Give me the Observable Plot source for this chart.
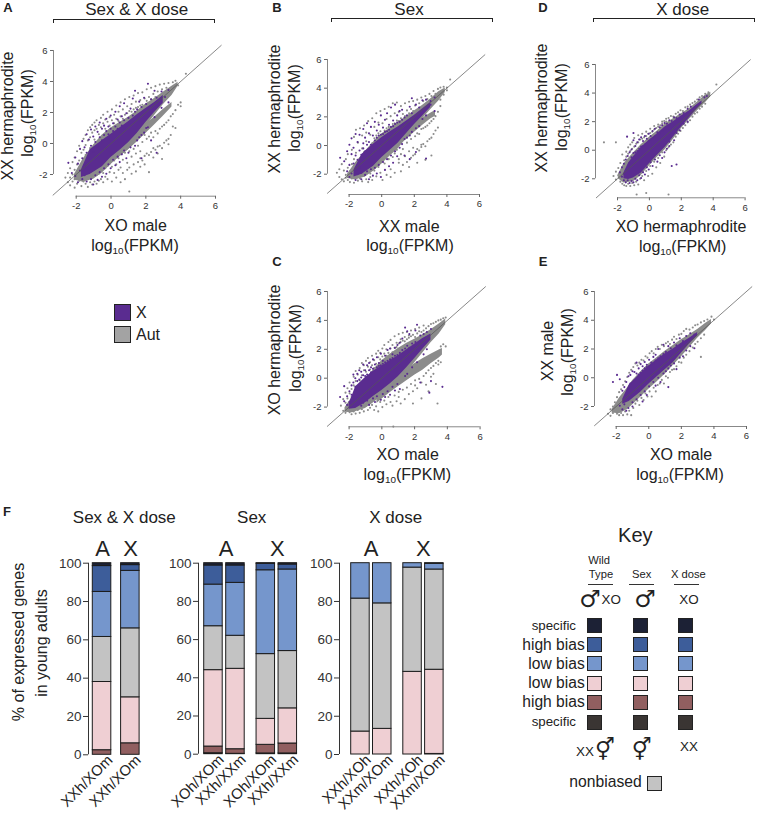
<!DOCTYPE html>
<html><head><meta charset="utf-8">
<script src="https://cdn.jsdelivr.net/npm/d3@7"></script>
<script src="https://cdn.jsdelivr.net/npm/@observablehq/plot@0.6"></script>
<style>
html,body{margin:0;padding:0;background:#fff}
#page{position:relative;width:757px;height:815px;overflow:hidden;font-family:"Liberation Sans",Arial,sans-serif;color:#222}
#page svg{position:absolute;overflow:visible;background:transparent}
.t{position:absolute;white-space:nowrap;line-height:1.1}
.t sub{font-size:.62em;line-height:0;vertical-align:-0.28em}
.sw{position:absolute;box-sizing:border-box;border:1.4px solid #222}
.br{position:absolute;box-sizing:border-box;border:1.3px solid #222;border-bottom:none;height:4px}
.hr{position:absolute;height:1px;background:#333}
</style></head><body><div id="page"></div>
<script>
// ---------- scatter data: log10(FPKM) ----------
const diagonal=[-3.33,6.33];
const tickVals=[-2,0,2,4,6];
// dense cores: envelope of the packed part of each cloud at each x
const aGrayX=[-2.1,-1.6,-1,-.5,0,.5,1,1.5,2,2.5,3,3.5,3.85];
const aGrayLo=[-2.35,-2.5,-2.3,-1.9,-1.35,-.85,-.4,.35,1.1,1.8,2.5,3.1,3.7];
const aGrayHi=[-2,-1,-.1,.55,1,1.35,1.7,2.1,2.55,2.9,3.3,3.7,3.95];
const aLobeX=[0,.5,1,1.5,2,2.5,3,3.5];
const aLobeLo=[-1.3,-.85,-.4,.1,.65,1.2,1.75,2.35];
const aLobeHi=[-.6,-.1,.3,.75,1.25,1.7,2.2,2.65];
const aPurpleX=[-1.7,-1.2,-.5,0,.5,1,1.5,2,2.5,3];
const aPurpleLo=[-2.2,-2,-1.5,-.9,-.45,.05,.65,1.35,2,2.6];
const aPurpleHi=[-1.7,-.4,.2,.6,1,1.4,1.85,2.25,2.65,3.1];
// scattered genes: [x, y, y, ...]
const aGrayCols=[[-2.62,-2.2],[-2.48,-1.9,-2.5],[-2.35,-1.6,-2.2,-2.7],[-2.21,-1.2,-2,-2.45],[-2.09,-.9,-1.7,-2.3,-2.85],[-1.95,-.5,-1.35,-2,-2.6],[-1.83,-.15,-1.1,-1.7,-2.4],[-1.7,-.6,-1.4,-2.15,-2.75],[-1.58,.3,-.4,-1,-2.45],[-1.46,.55,-.1,-.75,-2.6],[-1.33,.85,.2,-2.3,-2.8],[-1.2,1.05,.4,-.3,-2.5],[-1.08,.7,1.2,-2.2,-2.65],[-.95,1.35,.85,.25,-2.45],[-.83,.95,1.5,-2.05,-2.6],[-.7,1.2,.6,-1.95,-2.4],[-.58,1.65,1.05,-2.3,-1.7],[-.45,1.3,1.85,-1.9,-2.5],[-.33,1.55,.95,-1.6,-2.15],[-.2,2.05,1.4,-1.45,-2.3],[-.08,1.7,1.15,-1.85,-1.3],[.05,2.2,1.5,-1.5,-2.45],[.18,1.85,1.3,-1.1,-1.9],[.3,2.45,1.6,-1.35,-2.2],[.43,2.05,1.45,-.95,-1.7],[.55,2.65,1.75,-1.55,-2.5],[.68,2.2,1.6,-1.05,-1.9],[.8,2.85,1.85,-.6,-2.3],[.93,2.4,1.95,-1.25,-1.7],[1.05,3,2.1,-.5,-1.55,-3.1],[1.18,2.55,2.05,-.85,-1.95],[1.3,3.1,2.2,-.35,-1.35],[1.43,2.7,2.3,-.65,-1.8],[1.55,3.25,2.35,-.15,-1.2],[1.68,2.8,2.45,-.5,-1.5,-.95],[1.8,3.3,2.5,.1,-1.1],[1.93,2.9,.55,-.8,-1.35],[2.05,3.5,2.75,.3,-.65],[2.18,3,.45,-.75,-1.85],[2.3,3.6,2.85,.7,-.55],[2.43,3.2,.4,-.3,-.9],[2.55,3.7,3,.8,-.4],[2.68,3.35,.65,-.2,-.65],[2.8,3.8,.95,-.15],[2.93,3.5,1.1,-.3,-1],[3.05,3.85,1.2,.05],[3.18,3.6,1.35,.2],[3.3,3.9,1.5,.3,-.05],[3.43,1.75,.55],[3.55,3.95,1.9,1.1],[3.7,4.05,2.15,1],[3.85,3.75,2.5],[4,2.4,2.65],[4.3,4.5]];
const aPurpleCols=[[-2.45,-1.25],[-2.25,-1.9],[-2.05,-.9,-2.1],[-1.9,-1.3,-2.5],[-1.78,-.35,-1.75],[-1.65,.15,-.95,-2.3],[-1.52,-.25,-1.5,-2.05],[-1.4,.6,-.6,-2.45],[-1.27,.25,-.95,-1.9],[-1.15,.9,-.15,-2.3],[-1.02,.45,-.55,-2.65],[-.9,1.1,.1,-2.05],[-.77,.75,-.2,-2.35],[-.65,1.35,.4,-1.85],[-.52,.95,.2,-2.15],[-.4,1.15,.55,-1.6],[-.27,1.6,.8,-1.95],[-.15,1.1,.6,-1.35],[-.02,1.8,.95,-1.6],[.12,1.3,.8,-1.05],[.25,2.05,1.1,-1.4],[.38,1.55,.95,-.85],[.5,2.4,1.35,-1.2],[.62,1.75,1.15,-.7],[.75,2.6,1.5,-.45],[.88,1.95,-.95],[1,1.65,-.6],[1.12,2.25,-.25],[1.25,2.9,1.8],[1.38,3.4,2.05,-.15],[1.5,2.2,.2],[1.62,2.7,.4],[1.75,2.35,.55,-.95],[1.9,2.95,.7],[2.02,2.55,1],[2.12,3.85,1.05],[2.3,2.85,.2],[2.5,3.4,1.7],[2.62,-.6,2.95],[2.9,3.35,2.3],[3.1,3],[3.3,2.65,3.45]];

const bGrayX=[-2.1,-1.6,-1,-.5,0,.5,1,1.5,2,2.5,3,3.5,3.9];
const bGrayLo=[-2.3,-2.4,-2.2,-1.8,-1.3,-.75,-.25,.45,1.15,1.85,2.5,3.1,3.7];
const bGrayHi=[-2,-1.2,-.4,.25,.8,1.2,1.6,2,2.4,2.8,3.25,3.75,4.02];
const bLobeX=[.5,1,1.5,2,2.5,3,3.3];
const bLobeLo=[-.5,-.05,.4,.9,1.4,1.85,2.05];
const bLobeHi=[.05,.5,1,1.5,1.9,2.25,2.45];
const bPurpleX=[-1.7,-1.2,-.5,0,.5,1,1.5,2,2.5,3];
const bPurpleLo=[-2.2,-2,-1.45,-.85,-.35,.15,.8,1.45,2.05,2.65];
const bPurpleHi=[-1.7,-.6,.1,.55,.95,1.3,1.7,2.1,2.55,3];
const bGrayCols=[[-2.75,-1.9],[-2.6,-1.65,-2.2],[-2.45,-1.3,-2.35],[-2.32,-1.75,-2.5],[-2.2,-.95,-2.05,-2.25],[-2.08,-.6,-1.55,-2.4],[-1.95,-1.8,-2.15,-2.55],[-1.83,-.3,-1.3,-2.3],[-1.7,.6,-.95,-1.9,-2.6],[-1.58,1.1,-.5,-2.15],[-1.46,.2,-1.5,-2.45],[-1.33,1.2,-.9,-2.3],[-1.2,.7,-.2,-2.5],[-1.08,1.4,-.45,-2.1],[-.95,.9,.3,-2.35],[-.83,1.7,-.25,-2.55],[-.7,.75,-1.95,-2.2],[-.58,1.9,.15,-2.4],[-.45,1.3,.5,-1.75],[-.33,2.25,.7,-2.15],[-.2,1.6,.85,-1.5],[-.08,2.4,1,-1.9],[.05,1.55,.8,-2.4],[.18,2.55,1.05,-1.25],[.3,1.85,1.2,-2.05],[.43,2.7,1.3,-.95],[.55,2.05,1.25,-1.65,-2.2],[.68,2.95,1.5,-.8],[.8,2.25,1.55,-.55,-1.9],[.93,3,1.75,-.3],[1.05,2.35,1.7,-1.2,-.95],[1.18,2.75,1.9,-.6,-1.8],[1.3,2.2,-.25,-1.35],[1.43,2.95,2.05,-.75],[1.55,2.45,.2,-1.15],[1.68,3.05,2.25,-.4,-1.5],[1.8,2.55,.45,-.85],[1.93,3.1,2.4,-.15,-.7],[2.05,2.8,.65,-.6],[2.18,3.2,.85,-.25,-1.2],[2.3,2.95,.8,-.35],[2.43,3.35,1.15,.05,-.1],[2.55,3.1,1.2,.1],[2.68,3.45,1.3,-.05,-1],[2.8,3.25,1.4,.3],[2.93,3.6,1.55,.45],[3.05,3.45,1.7,.55,-.7],[3.18,3.8,1.85,.8],[3.3,3.6,2.05,1.05],[3.45,3.95,2.35,1.25],[3.6,4.05,3.2,2.75],[3.8,4.1,3.55],[4,3.85,4.05],[4.2,4.6]];
const bPurpleCols=[[-2.55,-.85],[-2.3,-1.1],[-2.12,-.4,-1.8],[-1.98,.05,-1.35,-2.2],[-1.85,.5,-.6,-1.95],[-1.73,-.15,-1.25],[-1.6,.8,-.7,-1.6,-2.4],[-1.48,.25,-1,-2],[-1.36,.75,-.35,-1.55],[-1.25,-.65,-1.9,-2.35],[-1.13,1.15,.15,-.2],[-1.02,.55,-.4,-2.05],[-.9,1.55,.05,-1.8],[-.78,.85,.25,-2.35],[-.66,1.3,.05,-1.65],[-.54,.7,-2.1],[-.42,1.65,.35,-1.55],[-.3,1.05,.55,-1.95],[-.18,1.45,.7,-1.35],[-.05,2.1,.75,-2.2],[.08,1.25,.8,-1.15],[.2,1.8,.95,-1.7],[.33,2.25,1,-.95],[.45,1.45,1.1,-1.45],[.57,2.65,1.3,-.7],[.7,1.75,1.35,-1.2],[.82,2.85,1.5,-.4],[.95,2.1,1.6,-.75],[1.1,2.4,1.65,-.15],[1.25,2.5,1.8,.1],[1.4,1.95,.45,-.7],[1.55,2.1,.55],[1.72,2.7,.7,-.95],[1.85,3.3,2.25,.95],[2.1,2.85,1.2,-.45],[2.3,2.65,1.35],[2.5,3.15,1.85],[2.72,3.2,2.1,-.9],[3,2.85,3.1],[3.25,2.4,3.35]];

const cGrayX=[-2.25,-1.8,-1,-.5,0,.5,1,1.5,2,2.5,3,3.5,3.9];
const cGrayLo=[-2.35,-2.4,-2.1,-1.7,-1.25,-.75,-.25,.35,1.05,1.75,2.45,3.05,3.7];
const cGrayHi=[-2.05,-1.3,-.1,.6,1.2,1.65,2.05,2.4,2.7,3,3.35,3.75,4.1];
const cLobeX=[-.3,0,.5,1,1.5,2,2.5,3,3.5,3.7];
const cLobeLo=[-1.75,-1.45,-1,-.6,-.2,.2,.55,1,1.4,1.6];
const cLobeHi=[-1.1,-.8,-.3,.2,.6,1,1.35,1.65,1.95,2.05];
const cPurpleX=[-2,-1.6,-1,-.5,0,.5,1,1.5,2,2.5,3];
const cPurpleLo=[-2.15,-2.1,-1.7,-1.25,-.85,-.4,.1,.7,1.35,2,2.65];
const cPurpleHi=[-1.8,-.6,.05,.5,.85,1.2,1.55,1.95,2.35,2.75,3.05];
const cGrayCols=[[-2.5,-1.9],[-2.36,-1.45,-2.25],[-2.22,-1,-1.7,-2.4],[-2.1,-.7,-1.4,-2.2],[-1.97,-.3,-1.05,-2.35],[-1.85,-.75,-1.3,-2.5],[-1.72,.1,-.5,-2.3],[-1.6,.5,-.2,-2.45],[-1.47,.25,-.6,-2.2],[-1.35,.7,-.15,-2.4],[-1.22,1.05,.2,-2.15],[-1.1,.55,.9,-2.3],[-.97,1.2,.45,-1.9],[-.85,.8,1.4,-2.2],[-.72,1.1,.6,-2.05],[-.6,1.55,.9,-1.85],[-.47,1.25,.7,-2.2],[-.35,1.7,1,-1.95],[-.22,1.45,1.9,-2.3],[-.1,1.3,1.75,-1.65],[.03,2.05,1.5,-2],[.15,1.7,2.3,-1.55],[.28,2,1.55,-1.8],[.4,2.5,1.75,-1.3],[.53,2.05,2.65,-1.65],[.65,2.3,1.8,-1.9],[.78,2.9,2.1,-1.2],[.9,2.45,2.15,-1.6],[1.03,3.05,2.4,-1.3,-.95],[1.15,2.7,2.5,-1.75],[1.28,3.15,2.6,-.8],[1.4,2.85,2.55,-1.45],[1.53,3.2,2.7,-.65],[1.65,2.95,2.8,-1.1],[1.78,3.3,2.9,-.4],[1.9,3,-.9,-1.75],[2.03,3.4,2.85,-.15,-.5],[2.16,3.1,-.7],[2.28,3.5,3.25,-.05],[2.42,3.2,-1.4,-.3],[2.55,3.65,3.3,.15],[2.7,3.45,.35,-.45],[2.85,3.6,-.9,.55],[3,3.75,.1,.7],[3.15,3.8,.85,.3],[3.3,3.9,1.05,-.4],[3.45,4,1.2,.95],[3.6,4.05,2.2,1.1],[3.75,4.15,2.35],[3.9,2.2,4.2],[3.4,-1.75],[.7,-3.35]];
const cPurpleCols=[[-2.55,-1.3],[-2.3,-.55,-1.6],[-2.12,-1.25,-1.85],[-1.98,-.9,-1.65],[-1.85,-.5,-1.15],[-1.74,.25,-.3],[-1.62,-.6,0],[-1.5,-.2,.3,-1.4],[-1.38,.55,-.1],[-1.26,.05,.45,-1.9],[-1.14,.95,.2,-1.7],[-1.02,.55,.15],[-.9,.9,.25,-1.55],[-.78,1.05,.55,-1.85],[-.66,.75,.4],[-.54,1.3,.65,-1.4],[-.42,.95,.5,-1.65],[-.3,1.45,.75,-1.25],[-.18,1.05,.85],[-.06,1.7,.9,-1.5],[.06,1.2,1,-1.1],[.2,1.55,1.1,-1.3],[.35,1.95,1.2,-.9],[.5,2.05,1.3,-1.15],[.65,1.65,1.4,-.6],[.8,2.1,1.55,-.85],[.95,2.3,1.6,-.4],[1.1,2.45,1.75,-.75],[1.25,1.95,2.75],[1.42,3.5,2.05,.15],[1.55,3.25,2.25,.3],[1.68,3.05,2.1],[1.85,2.4,.75],[2.05,3.3,2.5],[2.15,3.7,1.1],[2.35,2.95,-.3],[2.55,3.05,1.65],[2.75,3.2,2],[2.9,-1],[3,3.4,-.2],[3.7,-.6]];

const dGrayX=[-1.95,-1.6,-1,-.5,0,.5,1,1.5,2,2.5,3,3.5,3.85];
const dGrayLo=[-2,-2.3,-2.2,-1.75,-1.1,-.5,.05,.75,1.5,2.15,2.75,3.3,3.75];
const dGrayHi=[-1.7,-.95,-.2,.4,.9,1.35,1.85,2.2,2.55,2.9,3.35,3.85,4.05];
const dPurpleX=[-1.6,-1.3,-1,-.5,0,.5,1,1.5,2,2.5,3,3.3];
const dPurpleLo=[-2,-2.05,-1.95,-1.6,-.95,-.35,.2,.9,1.6,2.25,2.9,3.25];
const dPurpleHi=[-1.6,-.9,-.45,.2,.7,1.15,1.65,2,2.4,2.75,3.2,3.45];
const dGrayCols=[[-2.25,-1.8],[-2.1,.55,-1.5,-2.05],[-1.95,-1.25,-1.75],[-1.82,-.9,-2.2],[-1.7,-.3,-1.35,-2.35],[-1.58,-.7,-2.45],[-1.45,-.1,-.45,-2.5],[-1.33,.2,-.25,-2.35],[-1.2,.4,-.05,-2.5],[-1.08,.55,.1,-2.3],[-.95,.85,.25,-2.45],[-.83,.45,-2.2],[-.7,1.05,.55,-2.4],[-.58,.75,-2],[-.45,1.15,.8,-1.8],[-.33,.9,-2.1],[-.2,1.3,1,-1.45],[-.08,1.15,-1.8],[.05,1.5,1.2,-1.1],[.18,1.3,-1.65],[.3,1.7,1.45,-.8],[.43,1.55,-1.2],[.55,1.8,1.65,-.55],[.68,1.75,-.9],[.8,2,1.85,-.15],[.93,2.05,-.45],[1.05,2.2,2,0],[1.2,2.25,.2,-3.1],[1.35,2.4,.4],[1.5,2.35,.55],[1.65,2.55,.95],[1.8,2.65,1.15],[1.95,2.8,1.35],[2.1,2.75,1.55],[2.25,3,1.75],[2.4,3.05,1.95],[2.55,3.2,2.1],[2.7,3.3,2.35],[2.85,3.4,2.55],[3,3.55,2.65],[3.15,3.7,2.9],[3.3,3.8,3.05],[3.5,3.95,3.25],[3.7,4.05],[4.2,4.6],[-.8,-3.1],[-.2,-3],[-2.85,.55]];
const dPurpleCols=[[-1.85,-1.55],[-1.72,-1.2,-1.85],[-1.6,-.95,-1.65,-2.1],[-1.48,-.65,-1.4,-2.25],[-1.36,-.4,-2.1],[-1.24,-.15,-.9,-2.3],[-1.12,.05,-.5,-2.15],[-1,.7,-.2,-2.25],[-.88,.3,-.15,-2],[-.76,.55,-.05,-2.1],[-.64,.75,.1,-1.75],[-.52,.9,.25,-1.95],[-.4,.65,.3,-1.55],[-.28,1,.4,-1.7],[-.16,.8,.5,-1.2],[-.04,1.15,.65,-1.35],[.08,1,.75,-.85],[.2,1.35,.85,-1.1],[.35,1.5,.95,-.65],[.5,1.25,-.8],[.65,1.6,1.15,-.35],[.8,1.75,1.35,-.55],[.95,1.9,-.15],[1.1,1.85,.1],[1.25,2.1,.3,.6],[1.4,2.05,-1.1],[1.55,2.3,.7],[1.7,-1,2.25,1.2],[1.9,2.5,1.4],[2.15,2.6,1.85],[2.4,2.9,2],[2.6,3.05],[3.1,3.55],[3.45,3.7],[3.6,3.8],[-1,1.2],[-1.4,.95]];

const eGrayX=[-2.25,-1.8,-1.3,-1,-.5,0,.5,1,1.5,2,2.5,3,3.5,3.85];
const eGrayLo=[-2.45,-2.5,-2.2,-1.9,-1.35,-.8,-.3,.25,.85,1.45,2.1,2.75,3.3,3.75];
const eGrayHi=[-2.2,-1.4,-.7,-.2,.4,.95,1.4,1.85,2.25,2.65,3,3.35,3.8,4.05];
const ePurpleX=[-1.6,-1.2,-.5,0,.5,1,1.5,2,2.5,3];
const ePurpleLo=[-1.85,-1.65,-1,-.45,.05,.55,1.05,1.7,2.35,2.9];
const ePurpleHi=[-1.5,-.5,.3,.8,1.25,1.65,2,2.4,2.75,3.15];
const eGrayCols=[[-2.5,-2.5],[-2.35,-2.2,-2.65],[-2.2,-2,-2.45],[-2.08,-1.7,-2.3],[-1.95,-1.35,-2.5],[-1.82,-1,-2.6],[-1.7,-.8,-2.45],[-1.58,-.5,-2.6],[-1.45,-.25,-2.35],[-1.32,.05,-2.55],[-1.2,.35,-2.3],[-1.08,.55,-2.6],[-.95,.75,-2.1],[-.82,1,-1.8],[-.7,.85,-1.6],[-.58,1.05,-1.9],[-.45,1.25,-1.4],[-.32,1.2,-1.55],[-.2,1.5,-1.1],[-.08,1.4,-1.3],[.05,1.7,-.95],[.18,1.85,-1.3],[.3,1.7,-.7],[.43,2,-.95],[.55,2.15,-.5],[.68,2,-.4],[.8,2.3,-.15],[.93,2.2,-.4],[1.05,2.4,.1],[1.18,2.5,0],[1.3,2.35,.4],[1.43,2.65,.55],[1.55,2.85,.6],[1.7,2.7,.8],[1.85,3,1.1],[2,3.05,1.05],[2.15,3.25,1.4],[2.3,3.4,1.6],[2.5,3.35,1.85],[2.7,3.5,2.1],[2.85,3.65,2.35],[3,3.7,2.5],[3.2,3.85,1.45,2.75],[3.4,3.95,3],[3.6,4.05],[3.85,4.25],[4,4.05]];
const ePurpleCols=[[-2.2,-.3],[-1.95,.2],[-1.78,-.1,-1.95],[-1.62,-.9,-2.2],[-1.5,-.65,-1.85],[-1.38,-.3,-2.3],[-1.25,.1,-1.4,-2.1],[-1.13,.2,-.4],[-1,.45,-1.7,-2],[-.88,.4,-.2],[-.75,1.05,.3,-1.5],[-.62,.65,.2],[-.5,.95,.35,-1.2],[-.38,.8,.5,-1.65],[-.25,1.1,.65,-.95],[-.12,.9,.75,-1.2],[.02,1.25,.8,-.6],[.15,1.05,.9],[.28,1.45,1,-.3],[.42,1.6,1.2,-.55],[.58,2,1.35,0],[.72,1.5,-.3],[.9,2.3,1.65,.3],[1.05,1.8,.45],[1.2,2.2,.65,-.65],[1.35,2.05,.85],[1.55,2.45,1],[1.7,2.25,.6],[1.9,2.75,1.4],[2.1,2.55,1.5],[2.3,2.9,1.9],[2.55,3.1,2.2],[2.8,3,2.05]];

// ---------- stacked bars: % of expressed genes ----------
const biasCats=["XX specific","XX high","XX low","nonbiased","XO low","XO high","XO specific"];
const biasColors=["#3a3533","#915f60","#efcfd3","#c3c3c3","#7596cc","#3d5d9a","#1c2135"];
const f1Labels=["XXh/XOm","XXh/XOm"];
const f1Groups=["A","X"];
const f1Values=[[0,2.4,35.6,23.5,23.5,13.5,1.5],[0,6,24,36,30,3,1]];
const f2Labels=["XOh/XOm","XXh/XXm","XOh/XOm","XXh/XXm"];
const f2Groups=["A","A","X","X"];
const f2Values=[[.5,3.5,40,23,21.8,10,1.2],[.2,2.4,42.1,17.3,27.7,9.1,1.2],[.4,4.5,13.6,33.9,43.9,3.4,.3],[.4,5.2,18.4,30,42.7,2.6,.7]];
const f3Labels=["XXh/XOh","XXm/XOm","XXh/XOh","XXm/XOm"];
const f3Groups=["A","A","X","X"];
const f3Values=[[0,0,12,69.5,18.5,0,0],[0,0,13.4,65.6,21,0,0],[0,0,43.2,54.5,2.3,0,0],[0,.3,44,52.4,3,0,.3]];
const pctTicks=[0,20,40,60,80,100];

// ---------- text ----------
const LOG='log<sub>10</sub>(FPKM)';
const page=document.getElementById("page");
function txt(html,x,y,o={}){
  const d=document.createElement("div");d.className="t";d.innerHTML=html;
  d.style.left=x+"px";d.style.top=y+"px";d.style.fontSize=(o.size||16)+"px";
  if(o.weight)d.style.fontWeight=o.weight;
  if(o.family)d.style.fontFamily=o.family;
  const ax=o.anchor==="start"?"0":o.anchor==="end"?"-100%":"-50%";
  d.style.transform=`translate(${ax},-50%)`+(o.rot?` rotate(${o.rot}deg)`:"");
  page.appendChild(d);return d;
}
function box(cls,x,y,w,h,fill){
  const d=document.createElement("div");d.className=cls;
  d.style.left=x+"px";d.style.top=y+"px";d.style.width=w+"px";
  if(h!=null)d.style.height=h+"px";
  if(fill)d.style.background=fill;
  page.appendChild(d);
}
function band(xs,lo,hi){return xs.map((x,i)=>({x,lo:lo[i],hi:hi[i]}));}
function pts(cols){return cols.flatMap(([x,...ys])=>ys.map(y=>[x,y]));}

const GRAY="#8b8b8b",PURPLE="#5a2c90";
function scatter(c){
  const ox=c.axisYAt-35,oy=c.y6-25;
  const w=c.x6-ox+16,h=c.axisXAt-oy+30;
  const ppu=(c.ym2-c.y6)/8,ruleAt=-2-(c.axisXAt-c.ym2)/ppu,ppx=(c.x6-c.xm2)/8,ruleXAt=-2-(c.xm2-c.axisYAt)/ppx;
  const marks=[Plot.areaY(band(...c.gray),{x:"x",y1:"lo",y2:"hi",fill:GRAY})];
  if(c.lobe)marks.push(Plot.areaY(band(...c.lobe),{x:"x",y1:"lo",y2:"hi",fill:GRAY}));
  marks.push(
    Plot.dot(pts(c.grayCols),{x:"0",y:"1",r:1.05,fill:GRAY}),
    Plot.areaY(band(...c.purple),{x:"x",y1:"lo",y2:"hi",fill:PURPLE}),
    Plot.dot(pts(c.purpleCols),{x:"0",y:"1",r:1.05,fill:PURPLE}),
    Plot.line(diagonal.map(v=>[v,v]),{x:"0",y:"1",stroke:"#555",strokeWidth:.7}),
    Plot.ruleY([ruleAt],{x1:-2,x2:6,stroke:"#888",strokeWidth:1}),
    Plot.ruleX([ruleXAt],{y1:-2,y2:6,stroke:"#888",strokeWidth:1}),
    Plot.axisX({ticks:tickVals,tickFormat:String,tickSize:3,tickPadding:3,stroke:"#666",color:"#333",label:null,fontSize:9.5}),
    Plot.axisY({ticks:tickVals,tickFormat:String,tickSize:3,tickPadding:3,stroke:"#666",color:"#333",label:null,fontSize:9.5})
  );
  const s=Plot.plot({width:w,height:h,marginLeft:35,marginTop:25,marginBottom:30,marginRight:16,
    style:{fontFamily:'"Liberation Sans",Arial,sans-serif',background:"transparent"},
    x:{domain:[-2,6],range:[c.xm2-ox,c.x6-ox]},
    y:{domain:[-2,6],range:[c.ym2-oy,c.y6-oy]},
    marks});
  s.style.left=ox+"px";s.style.top=oy+"px";page.appendChild(s);
}
scatter({xm2:76,x6:215.3,y6:50,ym2:174,axisXAt:195.7,axisYAt:53.3,gray:[aGrayX,aGrayLo,aGrayHi],lobe:[aLobeX,aLobeLo,aLobeHi],purple:[aPurpleX,aPurpleLo,aPurpleHi],grayCols:aGrayCols,purpleCols:aPurpleCols});
scatter({xm2:348.3,x6:478.7,y6:59.3,ym2:174,axisXAt:194.3,axisYAt:326.7,gray:[bGrayX,bGrayLo,bGrayHi],lobe:[bLobeX,bLobeLo,bLobeHi],purple:[bPurpleX,bPurpleLo,bPurpleHi],grayCols:bGrayCols,purpleCols:bPurpleCols});
scatter({xm2:348.3,x6:479.3,y6:290.7,ym2:406.3,axisXAt:426,axisYAt:326.7,gray:[cGrayX,cGrayLo,cGrayHi],lobe:[cLobeX,cLobeLo,cLobeHi],purple:[cPurpleX,cPurpleLo,cPurpleHi],grayCols:cGrayCols,purpleCols:cPurpleCols});
scatter({xm2:616.7,x6:744.3,y6:64,ym2:178.3,axisXAt:197.3,axisYAt:594.7,gray:[dGrayX,dGrayLo,dGrayHi],purple:[dPurpleX,dPurpleLo,dPurpleHi],grayCols:dGrayCols,purpleCols:dPurpleCols});
scatter({xm2:615.7,x6:746,y6:291,ym2:406,axisXAt:426,axisYAt:594,gray:[eGrayX,eGrayLo,eGrayHi],purple:[ePurpleX,ePurpleLo,ePurpleHi],grayCols:eGrayCols,purpleCols:ePurpleCols});

function bars(c){
  const ox=c.axisAt-35,oy=540;
  const w=c.width,h=c.y0-oy+60;
  const rows=[],labels=[];
  c.labels.forEach((lab,i)=>{
    const slot=i+(c.groups[i]==="X"?c.gap:0);
    let acc=0;
    c.values[i].forEach((v,k)=>{
      if(v>0)rows.push({slot,cat:biasCats[k],y1:acc,y2:acc+v});
      acc+=v;
    });
    labels.push({slot,lab});
  });
  const bw=18.5/c.pitch;
  const s=Plot.plot({width:w,height:h,marginLeft:35,marginTop:c.y100-oy,marginBottom:60,marginRight:0,
    style:{fontFamily:'"Liberation Sans",Arial,sans-serif',background:"transparent"},
    x:{axis:null,domain:[0,1],range:[c.left-ox,c.left-ox+c.pitch]},
    y:{domain:[0,100],range:[c.y0-oy,c.y100-oy]},
    color:{domain:biasCats,range:biasColors},
    marks:[
      Plot.rect(rows,{x1:"slot",x2:d=>d.slot+bw,y1:"y1",y2:"y2",fill:"cat",stroke:"#1c1c1c",strokeWidth:1}),
      Plot.ruleX([(c.axisAt-c.left)/c.pitch],{y1:0,y2:100,stroke:"#333",strokeWidth:1}),
      Plot.axisY({ticks:pctTicks,tickSize:5,tickPadding:2,stroke:"#333",color:"#333",label:null,fontSize:13.5}),
      Plot.text(labels,{x:d=>d.slot+bw/2,y:()=>0,text:"lab",rotate:-45,textAnchor:"end",dx:8,dy:3,fontSize:14.8,fill:"#222"})
    ]});
  s.style.left=ox+"px";s.style.top=oy+"px";page.appendChild(s);
}
bars({axisAt:87.7,left:92,pitch:28.3,gap:0,y0:754.3,y100:562.7,width:120,labels:f1Labels,groups:f1Groups,values:f1Values});
bars({axisAt:198.3,left:204,pitch:22,gap:.38,y0:753.7,y100:562.7,width:145,labels:f2Labels,groups:f2Groups,values:f2Values});
bars({axisAt:339.3,left:351,pitch:21.8,gap:.39,y0:754,y100:562.7,width:150,labels:f3Labels,groups:f3Groups,values:f3Values});

// panel letters
[["A",8,8],["B",277,8],["C",277,262],["D",543,8],["E",543,262],["F",7,512]].forEach(([t,x,y])=>txt(t,x,y,{size:13,weight:"bold"}));
// brackets + headers
box("br",52.7,19,162.6,null);box("br",330.7,18,162.6,null);box("br",592.7,18,162.6,null);
txt("Sex &amp; X dose",136.7,9.5,{size:17});txt("Sex",409,9.5,{size:17});txt("X dose",682.7,9.5,{size:17});
// axis titles
const v=(s,x,y)=>txt(s,x,y,{rot:-90});
v("XX hermaphrodite",7.5,115.8);v(LOG,28,113);txt("XO male",135.7,225.7);txt(LOG,135,245.7);
v("XX hermaphrodite",275,109);v(LOG,295,108);txt("XX male",409.3,226.7);txt(LOG,410,246);
v("XO hermaphrodite",275,350);v(LOG,295.7,348);txt("XO male",407.7,455);txt(LOG,407.3,475);
v("XX hermaphrodite",541.7,108.3);v(LOG,562.3,106.7);txt("XO hermaphrodite",681,226.7);txt(LOG,682.7,246.7);
v("XX male",548.3,350.8);v(LOG,568.3,351.7);txt("XO male",681,455);txt(LOG,680,475);
// X / Aut legend
box("sw",114,304,17,17,PURPLE);box("sw",114,326,17,17,"#a3a3a3");
txt("X",136,312.5,{anchor:"start"});txt("Aut",136,335,{anchor:"start"});
// F titles
txt("Sex &amp; X dose",124.3,518.3,{size:17});txt("Sex",251.7,518.3,{size:17});txt("X dose",395.7,518.3,{size:17});
[["A",102.7],["X",130.7],["A",226],["X",277.3],["A",371],["X",423.3]].forEach(([t,x])=>txt(t,x,549,{size:22}));
v("% of expressed genes",19,641.7);v("in young adults",41.7,642.5);
// Key
const SYM='"DejaVu Sans",sans-serif';
const keyRows=["specific","high bias","low bias","low bias","high bias","specific"];
const keyRowY=[625.7,644.7,663.7,683.3,702.3,722.3];
const keyColX=[586.7,632.7,678];
const keyFill=[biasColors[6],biasColors[5],biasColors[4],biasColors[2],biasColors[1],biasColors[0]];
txt("Key",635.3,535,{size:20});
txt("Wild",588.3,560,{size:11.2,anchor:"start"});txt("Type",601,574.3,{size:11.2});txt("Sex",641.7,574.3,{size:11.2});txt("X dose",688.3,574.3,{size:11.2});
box("hr",588.3,584,25,1);box("hr",629.3,584,24.7,1);box("hr",674,584,25.3,1);
txt("♂",590,599,{size:24,family:SYM});txt("XO",611.3,600,{size:13.4});txt("♂",645,599,{size:24,family:SYM});txt("XO",689,600,{size:13.4});
keyRows.forEach((r,i)=>{
  const small=r==="specific";
  txt(r,small?576:584.7,keyRowY[i],{size:small?13.3:15.6,anchor:"end"});
  keyColX.forEach(x=>box("sw",x,keyRowY[i]-7.7,15.4,15.4,keyFill[i]));
});
txt("XX",585,751.7,{size:13.4});txt("⚥",605,750,{size:22,family:SYM});txt("⚥",641.7,750,{size:22,family:SYM});txt("XX",689,747,{size:13.4});
txt("nonbiased",569.3,782.3,{size:15.7,anchor:"start"});
box("sw",647.3,775.7,15,15,biasColors[3]);
</script></body></html>
